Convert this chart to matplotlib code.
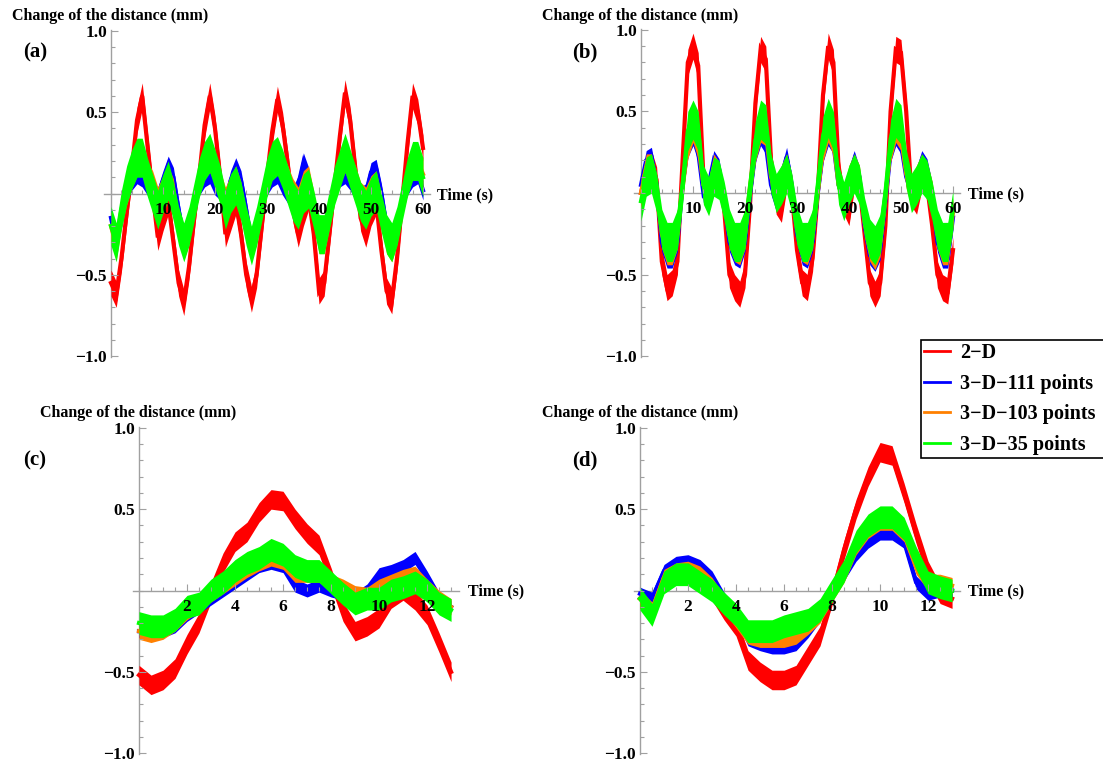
import numpy as np
import matplotlib.pyplot as plt
from matplotlib.ticker import MultipleLocator, FixedLocator, FixedFormatter
from matplotlib.lines import Line2D

W, H = 1103, 763

# time grids (s)
t_ab = np.arange(0, 61, 1.0)
t_cd = np.arange(0, 13.01, 0.5)

labels = ["2\u2212D", "3\u2212D\u2212111 points", "3\u2212D\u2212103 points", "3\u2212D\u221235 points"]
colors = ["#ff0000", "#0000ff", "#ff8000", "#00ff00"]

# panel (a)
a_2d = [-0.55, -0.62, -0.4, -0.12, 0.15, 0.45, 0.6, 0.3, 0.0, -0.27, -0.15,
        -0.05, -0.3, -0.55, -0.67, -0.45, -0.15, 0.12, 0.42, 0.6, 0.4,
        0.1, -0.25, -0.15, -0.05, -0.25, -0.5, -0.65, -0.5, -0.2, 0.1,
        0.38, 0.58, 0.42, 0.18, -0.1, -0.25, -0.12, -0.02, -0.25, -0.6,
        -0.55, -0.25, 0.05, 0.35, 0.62, 0.45, 0.15, -0.15, -0.25, -0.12,
        -0.05, -0.35, -0.6, -0.66, -0.4, -0.05, 0.3, 0.6, 0.5, 0.28]
a_111 = [-0.15, -0.3, -0.15, 0.0, 0.08, 0.12, 0.1, 0.05, 0.0, -0.02, 0.08,
         0.17, 0.1, -0.1, -0.28, -0.2, -0.05, 0.05, 0.1, 0.12, 0.05,
         0.02, -0.05, 0.08, 0.16, 0.08, -0.1, -0.3, -0.2, -0.05, 0.05,
         0.1, 0.12, 0.05, 0.0, -0.02, 0.05, 0.19, 0.1, -0.1, -0.28,
         -0.25, -0.1, 0.02, 0.1, 0.12, 0.08, 0.02, -0.02, 0.0, 0.13,
         0.15, 0.0, -0.2, -0.3, -0.2, -0.05, 0.05, 0.1, 0.12, 0.02]
a_103 = [-0.2, -0.32, -0.12, 0.02, 0.12, 0.2, 0.2, 0.1, 0.05, -0.05, 0.02,
         0.08, 0.0, -0.2, -0.32, -0.22, -0.05, 0.08, 0.18, 0.22, 0.15,
         0.05, -0.05, 0.02, 0.08, -0.02, -0.2, -0.33, -0.22, -0.05, 0.08,
         0.18, 0.22, 0.15, 0.08, 0.0, -0.05, 0.05, 0.08, -0.08, -0.28,
         -0.28, -0.12, 0.05, 0.15, 0.22, 0.15, 0.08, -0.02, -0.05, 0.02,
         0.05, -0.1, -0.28, -0.33, -0.22, -0.05, 0.08, 0.18, 0.2, 0.12]
a_35 = [-0.2, -0.3, -0.1, 0.05, 0.15, 0.22, 0.22, 0.1, 0.0, -0.1, 0.0,
        0.08, -0.05, -0.2, -0.3, -0.2, -0.05, 0.1, 0.2, 0.25, 0.15,
        0.05, -0.1, 0.0, 0.05, -0.05, -0.2, -0.32, -0.2, -0.05, 0.1,
        0.2, 0.23, 0.15, 0.05, -0.05, -0.1, 0.0, 0.03, -0.1, -0.25,
        -0.25, -0.1, 0.05, 0.15, 0.25, 0.15, 0.05, -0.05, -0.1, -0.02,
        0.02, -0.12, -0.25, -0.3, -0.2, -0.05, 0.1, 0.2, 0.2, 0.1]

# panel (b)
b_2d = [0.0, 0.15, 0.18, 0.08, -0.42, -0.58, -0.55, -0.42, 0.2, 0.8, 0.9,
        0.78, 0.1, -0.05, 0.1, 0.08, -0.1, -0.5, -0.58, -0.62, -0.5,
        -0.05, 0.55, 0.88, 0.82, 0.2, -0.05, -0.1, 0.1, 0.0, -0.35,
        -0.55, -0.58, -0.4, 0.0, 0.6, 0.9, 0.8, 0.15, -0.05, -0.12,
        0.1, 0.05, -0.25, -0.55, -0.62, -0.55, -0.2, 0.5, 0.88, 0.86,
        0.5, 0.0, -0.05, 0.1, 0.05, -0.2, -0.5, -0.58, -0.6, -0.35]
b_111 = [0.05, 0.2, 0.22, 0.05, -0.3, -0.4, -0.4, -0.3, 0.05, 0.28, 0.35,
         0.25, 0.0, 0.05, 0.2, 0.15, -0.05, -0.3, -0.38, -0.4, -0.3,
         0.0, 0.25, 0.35, 0.3, 0.05, -0.05, 0.1, 0.22, 0.05, -0.25,
         -0.38, -0.4, -0.3, 0.0, 0.25, 0.35, 0.3, 0.05, -0.05, 0.1,
         0.2, 0.1, -0.2, -0.38, -0.42, -0.35, -0.05, 0.25, 0.35, 0.3,
         0.1, 0.0, 0.1, 0.2, 0.15, 0.0, -0.3, -0.4, -0.4, -0.15]
b_103 = [0.0, 0.15, 0.15, 0.02, -0.25, -0.35, -0.35, -0.25, 0.05, 0.3, 0.4,
         0.3, 0.05, 0.0, 0.15, 0.1, -0.05, -0.25, -0.33, -0.35, -0.25,
         0.05, 0.28, 0.4, 0.38, 0.1, 0.0, 0.08, 0.15, 0.02, -0.22,
         -0.33, -0.35, -0.25, 0.02, 0.28, 0.4, 0.32, 0.05, -0.05, 0.08,
         0.15, 0.08, -0.18, -0.33, -0.38, -0.3, -0.02, 0.28, 0.4, 0.35,
         0.12, 0.0, 0.08, 0.15, 0.1, -0.02, -0.25, -0.35, -0.35, -0.12]
b_35 = [-0.05, 0.1, 0.12, 0.0, -0.22, -0.3, -0.3, -0.22, 0.05, 0.38, 0.45,
        0.38, 0.05, -0.02, 0.1, 0.08, -0.05, -0.22, -0.3, -0.3, -0.22,
        0.05, 0.32, 0.45, 0.42, 0.12, 0.0, 0.05, 0.12, 0.0, -0.2,
        -0.3, -0.3, -0.22, 0.05, 0.35, 0.46, 0.38, 0.05, -0.05, 0.05,
        0.12, 0.05, -0.15, -0.28, -0.32, -0.25, 0.0, 0.33, 0.46, 0.42,
        0.15, 0.0, 0.05, 0.12, 0.08, -0.05, -0.22, -0.3, -0.3, -0.1]

# panel (c)
c_2d = [-0.52, -0.58, -0.55, -0.48, -0.33, -0.2, -0.01, 0.17, 0.3, 0.36, 0.48,
        0.56, 0.55, 0.44, 0.35, 0.28, 0.08, -0.13, -0.25, -0.22, -0.17,
        -0.05, 0.0, -0.06, -0.15, -0.32, -0.5]
c_111 = [-0.25, -0.25, -0.25, -0.22, -0.15, -0.1, -0.05, 0.0, 0.05, 0.1, 0.15,
         0.17, 0.15, 0.03, 0.0, 0.03, 0.0, -0.02, -0.05, 0.0, 0.1,
         0.12, 0.15, 0.2, 0.08, -0.05, -0.1]
c_103 = [-0.25, -0.27, -0.25, -0.2, -0.13, -0.08, -0.02, 0.03, 0.08, 0.13, 0.17,
         0.2, 0.18, 0.1, 0.1, 0.1, 0.05, 0.02, -0.02, -0.03, 0.02,
         0.05, 0.08, 0.1, 0.02, -0.05, -0.1]
c_35 = [-0.2, -0.22, -0.22, -0.18, -0.1, -0.08, 0.0, 0.05, 0.12, 0.17, 0.2,
        0.25, 0.22, 0.15, 0.12, 0.12, 0.05, -0.02, -0.08, -0.05, -0.05,
        0.0, 0.02, 0.05, 0.0, -0.08, -0.12]

# panel (d)
d_2d = [-0.05, -0.1, 0.05, 0.1, 0.1, 0.08, 0.0, -0.12, -0.22, -0.43, -0.5,
        -0.55, -0.55, -0.52, -0.4, -0.28, -0.03, 0.25, 0.5, 0.7, 0.85,
        0.83, 0.6, 0.35, 0.12, -0.02, -0.05]
d_111 = [-0.02, -0.05, 0.12, 0.17, 0.18, 0.15, 0.08, -0.05, -0.15, -0.3, -0.33,
         -0.35, -0.35, -0.33, -0.25, -0.15, 0.0, 0.1, 0.22, 0.3, 0.35,
         0.35, 0.3, 0.05, -0.02, 0.0, 0.0]
d_103 = [-0.05, -0.12, 0.08, 0.12, 0.13, 0.1, 0.03, -0.08, -0.18, -0.28, -0.3,
         -0.3, -0.3, -0.28, -0.22, -0.15, -0.02, 0.1, 0.27, 0.37, 0.42,
         0.42, 0.35, 0.15, 0.05, 0.05, 0.03]
d_35 = [-0.05, -0.15, 0.05, 0.1, 0.1, 0.05, 0.0, -0.08, -0.15, -0.25, -0.25,
        -0.25, -0.22, -0.2, -0.18, -0.12, 0.0, 0.12, 0.3, 0.4, 0.45,
        0.45, 0.38, 0.2, 0.05, 0.02, 0.0]

# half width of the noise band of each series
noise_ab = [0.08, 0.06, 0.09, 0.12]
noise_cd = [0.06, 0.04, 0.05, 0.07]

plt.rcParams['font.family'] = ['Liberation Serif', 'DejaVu Serif']
plt.rcParams['font.weight'] = 'bold'

fig = plt.figure(figsize=(W / 100, H / 100), dpi=100)

def add_px_axes(left, top, right, bottom):
    return fig.add_axes([left / W, 1 - bottom / H, (right - left) / W, (bottom - top) / H])

def fig_text(x, y, s, size, **kw):
    fig.text(x / W, 1 - y / H, s, fontsize=size, fontweight='bold', va='center', **kw)

panels = [
    # name, box(px), time, series, noise, xlim, major, minor, ylabel pos, tag pos, Time pos
    ("(a)", (104, 30, 430, 357), t_ab, [a_2d, a_111, a_103, a_35], noise_ab,
     (-1.35, 61.35), 10, 2, (12, 16), (23, 52), (437, 195)),
    ("(b)", (634, 29, 960, 357), t_ab, [b_2d, b_111, b_103, b_35], noise_ab,
     (-1.35, 61.35), 10, 2, (542, 16), (572, 52), (968, 194)),
    ("(c)", (133, 427, 459, 754), t_cd, [c_2d, c_111, c_103, c_35], noise_cd,
     (-0.25, 13.33), 2, 0.5, (40, 413), (23, 460), (468, 591)),
    ("(d)", (634, 427, 960, 754), t_cd, [d_2d, d_111, d_103, d_35], noise_cd,
     (-0.25, 13.33), 2, 0.5, (542, 413), (572, 460), (968, 591)),
]

axis_gray = "#a0a0a0"
for tag, box, t, series, noise, xl, xmaj, xmin, ylab, tagpos, tpos in panels:
    ax = add_px_axes(*box)
    for ys, c, hw in zip(series, colors, noise):
        ys = np.array(ys)
        ax.fill_between(t, ys - hw, ys + hw, color=c, lw=0, zorder=2)
        ax.plot(t, ys, color=c, lw=3.0, zorder=2, solid_joinstyle='miter')
    ax.set_xlim(*xl)
    ax.set_ylim(-1.005, 1.005)
    for s in ['top', 'right']:
        ax.spines[s].set_visible(False)
    ax.spines['left'].set_position('zero')
    ax.spines['bottom'].set_position('zero')
    for s in ['left', 'bottom']:
        ax.spines[s].set_color(axis_gray)
        ax.spines[s].set_linewidth(1.0)
        ax.spines[s].set_zorder(1)
    xt = [v for v in np.arange(xmaj, xl[1], xmaj)]
    ax.xaxis.set_major_locator(FixedLocator(xt))
    ax.xaxis.set_major_formatter(FixedFormatter([f"{v:g}" for v in xt]))
    ax.xaxis.set_minor_locator(MultipleLocator(xmin))
    ax.yaxis.set_major_locator(FixedLocator([-1.0, -0.5, 0.5, 1.0]))
    ax.yaxis.set_major_formatter(FixedFormatter(["\u22121.0", "\u22120.5", "0.5", "1.0"]))
    ax.yaxis.set_minor_locator(MultipleLocator(0.1))
    ax.tick_params(which='both', direction='in', color=axis_gray, width=0.8)
    ax.tick_params(which='major', length=5)
    ax.tick_params(which='minor', length=3)
    ax.tick_params(axis='x', which='major', pad=6, labelsize=12.5)
    ax.tick_params(axis='y', which='major', pad=3, labelsize=12.5)
    for lab in ax.get_xticklabels() + ax.get_yticklabels():
        lab.set_fontweight('bold')
    ax.xaxis.set_zorder(3)
    ax.yaxis.set_zorder(3)
    ax.patch.set_visible(False)

    fig_text(ylab[0], ylab[1], "Change of the distance (mm)", 11.5)
    fig_text(tagpos[0], tagpos[1], tag, 15)
    fig_text(tpos[0], tpos[1], "Time (s)", 11.5)

handles = [Line2D([], [], color=c, lw=2) for c in colors]
leg = fig.legend(handles, labels, loc='upper left',
                 bbox_to_anchor=(921 / W, 1 - 340 / H, (1118 - 921) / W, 0),
                 mode='expand',
                 frameon=True, fancybox=False, edgecolor='black', framealpha=1,
                 prop={'family': 'Liberation Serif', 'weight': 'bold', 'size': 14.5},
                 handlelength=1.3, handletextpad=0.5, labelspacing=0.53,
                 borderpad=0.15, borderaxespad=0)
leg.get_frame().set_linewidth(1.2)

plt.savefig("out.png", dpi=100)
